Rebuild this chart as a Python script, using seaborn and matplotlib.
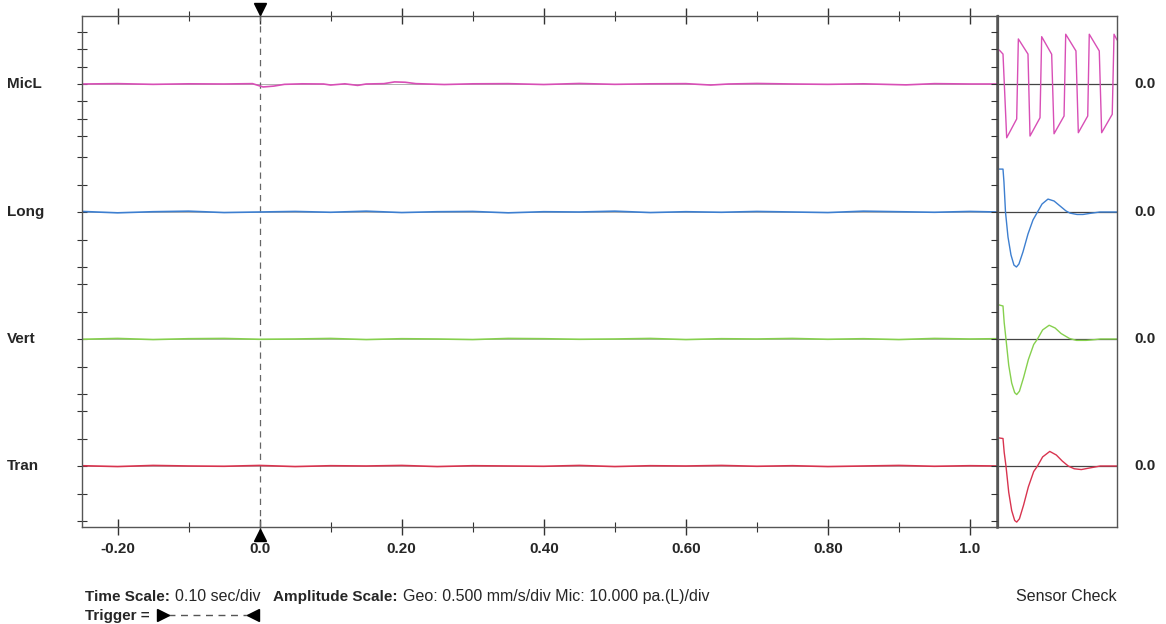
import numpy as np
import matplotlib.pyplot as plt
import matplotlib.transforms as mtransforms
from matplotlib.lines import Line2D
import seaborn as sns

# ---- data (amplitudes in divisions) ----
channels = ['MicL', 'Long', 'Vert', 'Tran']
colors = ['#d84fb6', '#3d7fd0', '#86d04e', '#d8344f']
px_per_div = [17.4, 27.5, 27.5, 27.5]          # Mic vs Geo scale
centers = [443, 315, 188, 61]                   # channel baselines (px units)

# event record, seconds
micl_t = [-0.25, -0.20, -0.15, -0.10, -0.05, -0.01, 0.005, 0.02, 0.035, 0.06,
          0.09, 0.10, 0.12, 0.138, 0.15, 0.175, 0.19, 0.205, 0.22, 0.26, 0.30,
          0.35, 0.40, 0.45, 0.50, 0.55, 0.60, 0.635, 0.66, 0.70, 0.75, 0.80,
          0.85, 0.91, 0.95, 1.00, 1.038]
micl_v = [0.0, 0.02, -0.02, 0.01, 0.0, 0.02, -0.17, -0.12, -0.02, 0.01,
          0.0, -0.06, 0.01, -0.08, 0.0, 0.02, 0.12, 0.10, 0.02, -0.03, 0.01,
          0.02, -0.03, 0.03, -0.02, 0.01, 0.02, -0.06, 0.0, 0.03, 0.0, -0.02,
          0.01, -0.05, 0.02, 0.0, 0.0]

geo_t = [-0.25, -0.20, -0.15, -0.10, -0.05, 0.0, 0.05, 0.10, 0.15, 0.20, 0.25,
         0.30, 0.35, 0.40, 0.45, 0.50, 0.55, 0.60, 0.65, 0.70, 0.75, 0.80,
         0.85, 0.90, 0.95, 1.00, 1.038]
long_v = [0.02, -0.03, 0.01, 0.03, -0.02, 0.0, 0.02, -0.01, 0.03, -0.02, 0.01,
          0.02, -0.03, 0.01, 0.0, 0.03, -0.02, 0.01, -0.01, 0.02, 0.0, -0.02,
          0.03, 0.01, -0.01, 0.02, 0.0]
vert_v = [-0.01, 0.02, -0.02, 0.01, 0.02, -0.01, 0.0, 0.02, -0.02, 0.01, 0.0,
          -0.02, 0.02, 0.01, -0.01, 0.0, 0.02, -0.02, 0.01, 0.0, 0.02, -0.01,
          0.01, -0.02, 0.02, 0.0, 0.01]
tran_v = [0.01, -0.02, 0.02, 0.0, -0.01, 0.02, -0.02, 0.01, 0.0, 0.02, -0.02,
          0.01, 0.0, -0.01, 0.02, -0.02, 0.01, 0.0, 0.02, -0.01, 0.01, -0.02,
          0.0, 0.02, -0.01, 0.01, 0.0]

# sensor check, normalised panel time
mic_sc_t = [0.011, 0.042, 0.073, 0.157, 0.171, 0.252, 0.269, 0.353, 0.367, 0.451,
            0.471, 0.555, 0.569, 0.655, 0.675, 0.754, 0.767, 0.851, 0.871, 0.960,
            0.975, 1.0]
mic_sc_v = [1.95, 1.72, -3.09, -2.01, 2.59, 1.72, -2.99, -1.94, 2.72, 1.71,
            -2.86, -1.84, 2.86, 1.90, -2.80, -1.84, 2.86, 1.90, -2.80, -1.74,
            2.86, 2.53]
long_sc_t = [0.008, 0.042, 0.050, 0.063, 0.084, 0.109, 0.134, 0.155, 0.176, 0.210,
             0.252, 0.294, 0.332, 0.370, 0.420, 0.471, 0.521, 0.571, 0.605, 0.664,
             0.714, 0.773, 0.857, 1.0]
long_sc_v = [1.56, 1.56, 1.09, 0.0, -0.91, -1.56, -1.93, -2.0, -1.89, -1.45,
             -0.80, -0.29, 0.0, 0.29, 0.47, 0.40, 0.22, 0.04, -0.04, -0.09,
             -0.09, -0.05, 0.0, 0.0]
vert_sc_t = [0.008, 0.042, 0.052, 0.067, 0.090, 0.115, 0.140, 0.157, 0.180, 0.215,
             0.255, 0.300, 0.332, 0.375, 0.430, 0.480, 0.530, 0.600, 0.660, 0.740,
             0.820, 0.860, 1.0]
vert_sc_v = [1.24, 1.20, 0.60, 0.0, -0.95, -1.60, -1.95, -2.02, -1.90, -1.40,
             -0.75, -0.20, 0.0, 0.33, 0.50, 0.40, 0.20, 0.02, -0.05, -0.05,
             -0.02, 0.0, 0.0]
tran_sc_t = [0.008, 0.042, 0.052, 0.067, 0.090, 0.115, 0.140, 0.157, 0.180, 0.215,
             0.255, 0.300, 0.332, 0.375, 0.435, 0.490, 0.540, 0.590, 0.640, 0.700,
             0.760, 0.860, 1.0]
tran_sc_v = [1.02, 1.00, 0.50, 0.0, -0.95, -1.62, -1.98, -2.04, -1.92, -1.42,
             -0.76, -0.20, 0.0, 0.33, 0.53, 0.40, 0.18, 0.0, -0.10, -0.13,
             -0.08, 0.0, 0.0]

x_major = [-0.2, 0.0, 0.2, 0.4, 0.6, 0.8, 1.0]
x_major_labels = ['-0.20', '0.0', '0.20', '0.40', '0.60', '0.80', '1.0']
x_minor = [-0.1, 0.1, 0.3, 0.5, 0.7, 0.9]

main_traces = [(micl_t, micl_v), (geo_t, long_v), (geo_t, vert_v), (geo_t, tran_v)]
sc_traces = [(mic_sc_t, mic_sc_v), (long_sc_t, long_sc_v),
             (vert_sc_t, vert_sc_v), (tran_sc_t, tran_sc_v)]

# ---- style ----
sns.set_theme(style='white')
plt.rcParams['font.family'] = ['Liberation Sans', 'DejaVu Sans']
SPINE = '#555555'

W, H = 1166, 624
fig = plt.figure(figsize=(W / 100, H / 100), dpi=100, facecolor='white')
ax = fig.add_axes([82 / W, 97 / H, 915 / W, 511 / H])
ax2 = fig.add_axes([998 / W, 97 / H, 119 / W, 511 / H])

# y ticks per channel: mic +-3 div, geo +-2 div
yticks = []
for i, (c, s) in enumerate(zip(centers, px_per_div)):
    ks = (-3, -2, -1, 0, 1, 2, 3) if i == 0 else (-2, -1, 0, 1, 2)
    yticks += [c + k * s for k in ks]

# ---- main record ----
for c, col, (t, v), s in zip(centers, colors, main_traces, px_per_div):
    ax.axhline(c, color='#333333', lw=0.6, alpha=0.45, zorder=1)
    sns.lineplot(x=t, y=c + np.array(v) * s, ax=ax, color=col, lw=1.2,
                 estimator=None, sort=False, zorder=2)
ax.axvline(0, color='#666666', lw=0.9, ls=(0, (5, 4)), zorder=1)

ax.set_xlim(-0.25, 1.038)
ax.set_ylim(0, 511)
ax.set_xticks(x_major)
ax.set_xticklabels(x_major_labels)
ax.set_xticks(x_minor, minor=True)
ax.tick_params(axis='x', which='major', direction='inout', length=12, width=1,
               color='#333333', bottom=True, top=True, labelsize=11, pad=5)
ax.tick_params(axis='x', which='minor', direction='inout', length=7, width=0.8,
               color='#333333', bottom=True, top=True)
for lbl in ax.get_xticklabels():
    lbl.set_fontweight('bold')
ax.set_yticks(yticks)
ax.tick_params(axis='y', direction='inout', length=7, width=0.8, color='#333333',
               left=True, labelleft=False)
for sp in ax.spines.values():
    sp.set_color(SPINE)
    sp.set_linewidth(1.0)
ax.spines['right'].set_linewidth(1.8)

axr = ax.twinx()
axr.set_ylim(0, 511)
axr.set_yticks(yticks)
axr.tick_params(axis='y', direction='in', length=4, width=0.8, color='#333333',
                right=True, labelright=False)
axr.grid(False)
for sp in axr.spines.values():
    sp.set_visible(False)

# trigger markers
bt = mtransforms.blended_transform_factory(ax.transData, ax.transAxes)
ax.plot([0], [1.013], marker='v', ms=9, color='black', transform=bt, clip_on=False)
ax.plot([0], [-0.015], marker='^', ms=9, color='black', transform=bt, clip_on=False)

# channel names
lt = mtransforms.blended_transform_factory(ax.transAxes, ax.transData)
for name, c in zip(channels, centers):
    ax.text(-0.082, c, name, transform=lt, ha='left', va='center',
            fontsize=11, fontweight='bold')

# ---- sensor check panel ----
for c, col, (t, v), s in zip(centers, colors, sc_traces, px_per_div):
    ax2.axhline(c, color='#444444', lw=0.9, zorder=1)
    sns.lineplot(x=t, y=c + np.array(v) * s, ax=ax2, color=col, lw=1.0,
                 estimator=None, sort=False, zorder=2)
ax2.set_xlim(0, 1)
ax2.set_ylim(0, 511)
ax2.set_xticks([])
ax2.set_yticks([])
for sp in ax2.spines.values():
    sp.set_color(SPINE)
    sp.set_linewidth(1.0)
ax2.spines['left'].set_linewidth(1.6)
rt = mtransforms.blended_transform_factory(ax2.transAxes, ax2.transData)
for c in centers:
    ax2.text(1.143, c, '0.0', transform=rt, ha='left', va='center',
             fontsize=11, fontweight='bold')

# ---- footer ----
def fy(py):
    return 1 - py / H

fig.text(85 / W, fy(601), 'Time Scale:', fontsize=11, fontweight='bold', va='baseline')
fig.text(175 / W, fy(601), '0.10 sec/div', fontsize=11.5, va='baseline')
fig.text(273 / W, fy(601), 'Amplitude Scale:', fontsize=11, fontweight='bold', va='baseline')
fig.text(403 / W, fy(601), 'Geo: 0.500 mm/s/div Mic: 10.000 pa.(L)/div', fontsize=11.5, va='baseline')
fig.text(1117 / W, fy(601), 'Sensor Check', fontsize=11.5, ha='right', va='baseline')
fig.text(85 / W, fy(620), 'Trigger =', fontsize=11, fontweight='bold', va='baseline')
fig.add_artist(Line2D([168 / W, 248 / W], [fy(615), fy(615)], color='#555555',
                      lw=1.0, ls=(0, (5, 4))))
fig.add_artist(Line2D([163 / W], [fy(615)], marker='>', ms=8, color='black', lw=0))
fig.add_artist(Line2D([253 / W], [fy(615)], marker='<', ms=8, color='black', lw=0))

fig.savefig('out.png', dpi=100, facecolor='white')
